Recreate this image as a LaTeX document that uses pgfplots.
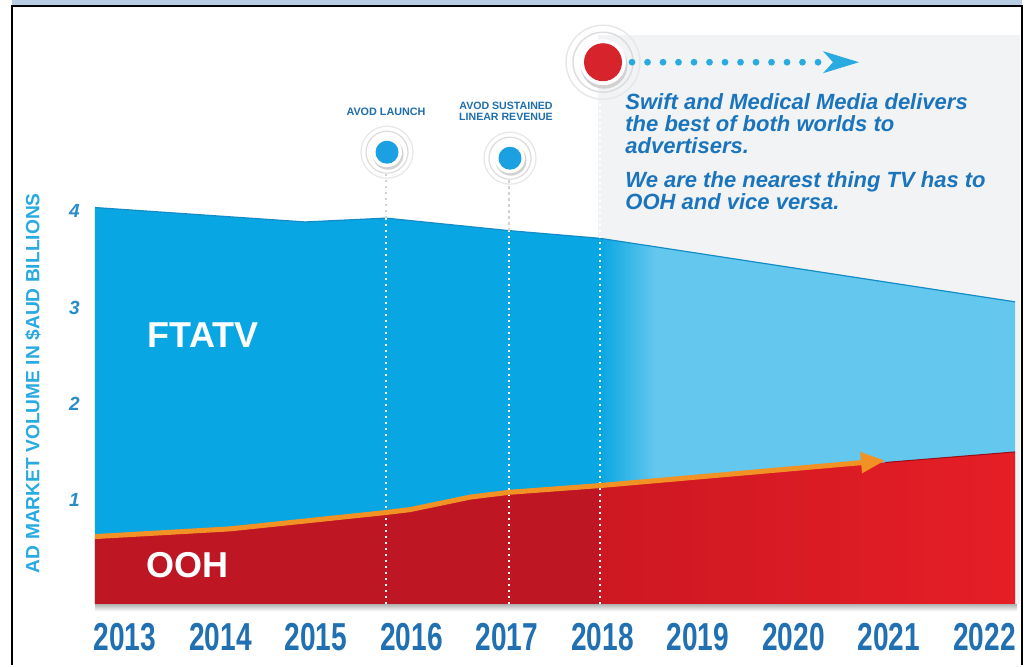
\documentclass[border=0pt]{standalone}
\usepackage{pgfplots}
\pgfplotsset{compat=1.18}
\usepackage{fontspec}
\setmainfont{Liberation Sans}
\newfontfamily\condfont[FakeStretch=0.72]{Liberation Sans}
\usetikzlibrary{arrows.meta}
\definecolor{ftaDark}{RGB}{8,166,226}
\definecolor{ftaLight}{RGB}{100,199,238}
\definecolor{oohDark}{RGB}{190,22,34}
\definecolor{oohMid}{RGB}{205,24,34}
\definecolor{oohBright}{RGB}{230,30,38}
\definecolor{orangeLine}{RGB}{243,146,36}
\definecolor{panel}{RGB}{242,243,245}
\definecolor{topstrip}{RGB}{184,204,228}
\definecolor{yearblue}{RGB}{33,112,178}
\definecolor{ynumblue}{RGB}{40,140,200}
\definecolor{ylabblue}{RGB}{41,171,226}
\definecolor{txtblue}{RGB}{27,117,188}
\definecolor{annblue}{RGB}{31,110,174}
\definecolor{dotblue}{RGB}{41,171,226}
\definecolor{circblue}{RGB}{27,161,226}
\definecolor{circred}{RGB}{215,35,43}
\definecolor{ringgray}{RGB}{220,220,222}
\begin{document}
\begin{tikzpicture}
\tikzset{px/.style={shift={(-47.5pt,302pt)},x=0.5pt,y=-0.5pt}}
\begin{scope}[px]
\path[use as bounding box] (0,0) rectangle (1026,665);
\fill[white] (0,0) rectangle (1026,665);
\fill[topstrip] (12,0) rectangle (1022,4.5);
\fill[panel] (598,35) rectangle (1020,604);
\end{scope}
\begin{axis}[
  at={(0,0)}, anchor=south west,
  scale only axis, width=460pt, height=302pt,
  xmin=2012.686, xmax=2022.319, ymin=-0.083, ymax=6.195,
  clip=false,
  axis line style={draw=none},
  major tick length=0pt,
  xtick={2013,2014,...,2022},
  ytick={1,2,3,4},
  /pgf/number format/1000 sep={},
  /pgf/number format/assume math mode=true,
  xticklabel style={font=\condfont\bfseries\fontsize{19.5}{20}\selectfont, text=yearblue, anchor=north, inner sep=0pt, yshift=-9.5pt},
  yticklabel style={font=\bfseries\itshape\fontsize{9.5}{10}\selectfont, text=ynumblue, anchor=east, inner sep=0pt, xshift=-7.5pt},
  ylabel={AD MARKET VOLUME IN \$AUD BILLIONS},
  ylabel style={font=\bfseries\fontsize{9.6}{10}\selectfont, text=ylabblue, at={(axis description cs:-0.0674,0.366)}, anchor=center},
]
% FTATV (total) left part
\addplot[fill=ftaDark, draw=none] coordinates {
 (2012.686,-0.083) (2012.686,4.04) (2014.885,3.89) (2015.733,3.93) (2017.021,3.80) (2017.974,3.72) (2017.974,-0.083)} -- cycle;
% FTATV right part
\addplot[fill=ftaLight, draw=none] coordinates {
 (2017.974,-0.083) (2017.974,3.72) (2022.319,3.06) (2022.319,-0.083)} -- cycle;
\addplot[left color=ftaDark, right color=ftaLight, draw=none] coordinates {
 (2017.974,-0.083) (2017.974,3.72) (2018.55,3.63) (2018.55,-0.083)} -- cycle;
% top edge
\addplot[draw={rgb,255:red,20;green,140;blue,200}, line width=0.6pt] coordinates {
 (2012.686,4.04) (2014.885,3.89) (2015.733,3.93) (2017.021,3.80) (2017.974,3.72) (2022.319,3.06)};
% OOH left part
\addplot[fill=oohDark, draw=none] coordinates {
 (2012.686,-0.083) (2012.686,0.62) (2014.099,0.70) (2015.733,0.87) (2015.984,0.90) (2016.613,1.03) (2017.021,1.08) (2017.974,1.15) (2017.974,-0.083)} -- cycle;
% OOH right part
\addplot[left color=oohMid, right color=oohBright, draw=none] coordinates {
 (2017.974,-0.083) (2017.974,1.15) (2022.319,1.50) (2022.319,-0.083)} -- cycle;
\addplot[draw={rgb,255:red,150;green,15;blue,25}, line width=0.5pt] coordinates {(2020.958,1.39) (2022.319,1.50)};
% dotted guide lines
\draw[white, line width=0.9pt, dash pattern=on 1.2pt off 1.8pt] (axis cs:2015.733,-0.083) -- (axis cs:2015.733,3.93);
\draw[white, line width=0.9pt, dash pattern=on 1.2pt off 1.8pt] (axis cs:2017.021,-0.083) -- (axis cs:2017.021,3.80);
\draw[white, line width=0.9pt, dash pattern=on 1.2pt off 1.8pt] (axis cs:2017.974,-0.083) -- (axis cs:2017.974,3.72);
\draw[black!18, line width=0.9pt, dash pattern=on 1.2pt off 1.8pt] (axis cs:2015.733,3.93) -- (axis cs:2015.733,4.41);
\draw[black!18, line width=0.9pt, dash pattern=on 1.2pt off 1.8pt] (axis cs:2017.021,3.80) -- (axis cs:2017.021,4.35);
\draw[white, line width=0.9pt, dash pattern=on 1.2pt off 1.8pt] (axis cs:2017.974,3.72) -- (axis cs:2017.974,5.31);
% orange growth line
\addplot[draw=orangeLine, line width=2.5pt, -{Triangle[length=12pt,width=10pt]}] coordinates {
 (2012.686,0.62) (2014.099,0.70) (2015.733,0.87) (2015.984,0.90) (2016.613,1.03) (2017.021,1.08) (2017.974,1.15) (2020.958,1.41)};
\end{axis}
\begin{scope}[px]
% bottom shadow
\shade[top color=black!30, bottom color=white] (95,604) rectangle (1017,611);
% frame
\draw[black, line width=1pt] (12,665) -- (12,5.5) -- (1021.5,5.5) -- (1021.5,665);
% area labels
\node[font=\bfseries\fontsize{18}{18}\selectfont, text=white] at (203,335) {FTATV};
\node[font=\bfseries\fontsize{18}{18}\selectfont, text=white] at (187,565) {OOH};
% milestone labels
\node[font=\bfseries\fontsize{5.4}{6}\selectfont, text=annblue, anchor=base, inner sep=0pt] at (386,115) {AVOD LAUNCH};
\node[font=\bfseries\fontsize{5.3}{6}\selectfont, text=annblue, anchor=base, inner sep=0pt] at (506,109) {AVOD SUSTAINED};
\node[font=\bfseries\fontsize{5.3}{6}\selectfont, text=annblue, anchor=base, inner sep=0pt] at (506,120.7) {LINEAR REVENUE};
% blue milestone circles
\foreach \cx/\cy in {387/152, 510/158} {
  \draw[ringgray, line width=0.6pt] (\cx,\cy) circle (21);
  \draw[ringgray!70, line width=0.6pt] (\cx,\cy) circle (26);
  \fill[black!18] (\cx+1,\cy+2) circle (15.5);
  \fill[white] (\cx,\cy) circle (15);
  \fill[circblue] (\cx,\cy) circle (11.5);
}
% red circle
\draw[ringgray, line width=0.7pt] (603,62) circle (30);
\draw[ringgray!70, line width=0.7pt] (603,62) circle (37);
\fill[black!18] (604,65) circle (23.5);
\fill[white] (603,62) circle (23);
\fill[circred] (603,62) circle (19);
% dotted arrow
\foreach \i in {0,...,12} { \fill[dotblue] (632+\i*15.5,62) circle (3.4); }
\fill[dotblue] (823,51) -- (859,62) -- (823,73) -- (833,62) -- cycle;
% message text
\begin{scope}[every node/.style={font=\bfseries\itshape\fontsize{11}{11}\selectfont, text=txtblue, anchor=base west, inner sep=0pt}]
\node at (625,109) {Swift and Medical Media delivers};
\node at (625,131) {the best of both worlds to};
\node at (625,153) {advertisers.};
\node at (625,187) {We are the nearest thing TV has to};
\node at (625,209) {OOH and vice versa.};
\end{scope}
\end{scope}
\end{tikzpicture}
\end{document}
